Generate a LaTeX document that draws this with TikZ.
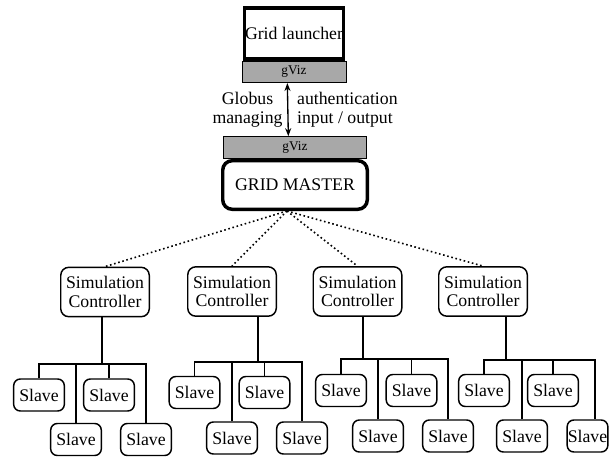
\documentclass[tikz,border=0pt]{standalone}
\usepackage{fontspec}
\setmainfont{Liberation Serif}
\usepackage{tikz}
\usetikzlibrary{positioning,arrows.meta}
\tikzset{
  % --- launcher / master stack ----------------------------------------------
  launch/.style={rectangle,draw,line width=2.6pt,minimum width=74.5pt,
                 minimum height=38.5pt,inner xsep=0pt,
                 font=\fontsize{13.3}{14.5}\selectfont},
  gviz/.style={rectangle,draw,line width=0.6pt,fill=black!34,inner sep=0pt,
               font=\fontsize{10}{11}\selectfont},
  masterbox/.style={rectangle,rounded corners=7pt,draw,line width=2.6pt,
                    minimum width=108.4pt,minimum height=36.4pt,
                    font=\fontsize{13.3}{14.5}\selectfont},
  % --- controllers and slaves ------------------------------------------------
  ctrl/.style={rectangle,rounded corners=6pt,draw,line width=1.1pt,
               minimum width=66.4pt,minimum height=37pt,inner sep=1pt,
               align=center,font=\fontsize{13.3}{14}\selectfont},
  slave/.style={rectangle,rounded corners=5pt,draw,line width=1.1pt,
                minimum width=38pt,minimum height=24pt,inner sep=1pt,
                font=\fontsize{13.3}{14.5}\selectfont},
  % --- connectors ------------------------------------------------------------
  tree/.style={line width=1.1pt},
  link/.style={line width=1.2pt,dotted},
  both/.style={{Stealth[length=6pt,width=4.5pt]}-{Stealth[length=6pt,width=4.5pt]},
               line width=1pt},
  lab/.style={font=\fontsize{13.3}{14.5}\selectfont,inner ysep=0pt},
}

\begin{document}
\begin{tikzpicture}[x=0.75pt, y=-0.75pt]
  \useasboundingbox (0,0) rectangle (610,462);

  \node[launch] (launch) at (294,33.5) {Grid launcher};
  \node[gviz,minimum width=78pt,minimum height=16pt,below=0pt of launch] (gvup) {gViz};
  \node[masterbox] (master) at (295,185) {GRID MASTER};
  \node[gviz,minimum width=107pt,minimum height=16.5pt,above=0pt of master] (gvdn) {gViz};

  \draw[both] ([xshift=-5pt]gvup.south) -- ([xshift=-5pt]gvdn.north)
    node[lab,midway,left,inner xsep=3.5pt,align=center] {Globus\\managing}
    node[lab,midway,right,inner xsep=6.5pt,align=left] {authentication\\input / output};

  % controllers under the master
  \node[ctrl] (c1) at (105,292)   {Simulation\\Controller};
  \node[ctrl] (c2) at (232,291.5) {Simulation\\Controller};
  \node[ctrl] (c3) at (357.5,291.5) {Simulation\\Controller};
  \node[ctrl] (c4) at (483,291.5) {Simulation\\Controller};

  \coordinate (hub) at ([xshift=-6pt]master.south);
  \draw[link] (hub) -- (c1.north);
  \draw[link] (hub) -- (c2.north);
  \draw[link] (hub) -- (c3.north);
  \draw[link] (hub) -- (c4.north);

  % tree 1
  \node[slave] (s1a) at (39,395)    {Slave};
  \node[slave] (s1b) at (76,439.5)  {Slave};
  \node[slave] (s1c) at (109,395)   {Slave};
  \node[slave] (s1d) at (146,439.5) {Slave};
  \coordinate (j1) at (102,364);
  \draw[tree] (c1.south -| j1) -- (j1);
  \draw[tree] (s1a.north) |- (j1) -| (s1d.north);
  \draw[tree] (s1b.north) -- (s1b.north |- j1);
  \draw[tree] (s1c.north) -- (s1c.north |- j1);

  % tree 2
  \node[slave] (s2a) at (194.5,392.5) {Slave};
  \node[slave] (s2b) at (232,438)     {Slave};
  \node[slave] (s2c) at (264.5,392.5) {Slave};
  \node[slave] (s2d) at (302,438)     {Slave};
  \coordinate (j2) at (258,362);
  \draw[tree] (c2.south -| j2) -- (j2);
  \draw[tree] (s2a.north) |- (j2) -| (s2d.north);
  \draw[tree] (s2b.north) -- (s2b.north |- j2);
  \draw[tree] (s2c.north) -- (s2c.north |- j2);

  % tree 3
  \node[slave] (s3a) at (341,390.5)   {Slave};
  \node[slave] (s3b) at (378,436)     {Slave};
  \node[slave] (s3c) at (411.5,390.5) {Slave};
  \node[slave] (s3d) at (448,436)     {Slave};
  \coordinate (j3) at (363,359);
  \draw[tree] (c3.south -| j3) -- (j3);
  \draw[tree] (s3a.north) |- (j3) -| (s3d.north);
  \draw[tree] (s3b.north) -- (s3b.north |- j3);
  \draw[tree] (s3c.north) -- (s3c.north |- j3);

  % tree 4 (last slave squeezed against the edge)
  \node[slave] (s4a) at (484,390.5) {Slave};
  \node[slave] (s4b) at (522,436)   {Slave};
  \node[slave] (s4c) at (553,390.5) {Slave};
  \node[slave,minimum width=30.5pt,inner xsep=0pt] (s4d) at (587.5,436) {Slave};
  \coordinate (j4) at (506,360);
  \draw[tree] (c4.south -| j4) -- (j4);
  \draw[tree] (s4a.north) |- (j4) -| ([xshift=5.5pt]s4d.north);
  \draw[tree] (s4b.north) -- (s4b.north |- j4);
  \draw[tree] (s4c.north) -- (s4c.north |- j4);
\end{tikzpicture}
\end{document}
